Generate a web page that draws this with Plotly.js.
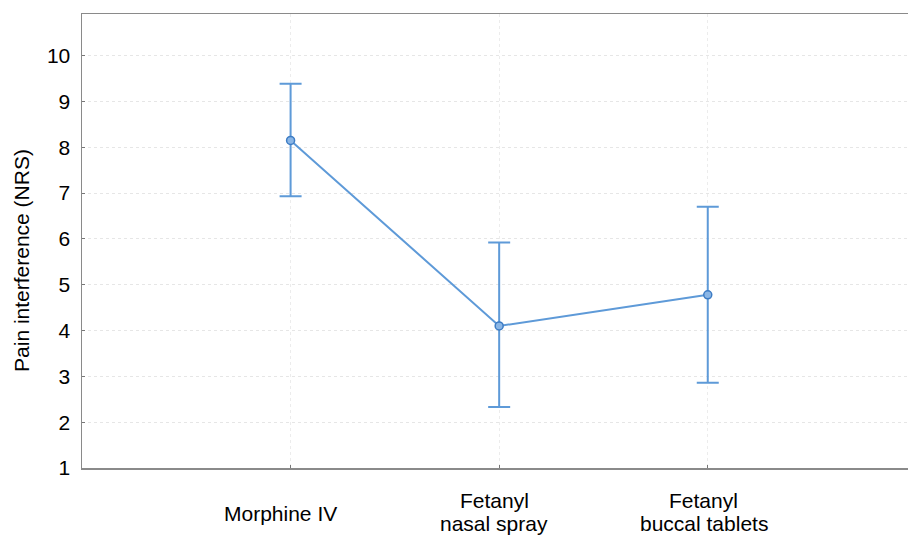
<!DOCTYPE html>
<html>
<head>
<meta charset="utf-8">
<script src="https://cdn.plot.ly/plotly-3.0.1.min.js"></script>
<style>html,body{margin:0;padding:0;background:#fff;}#chart{width:908px;height:538px;}</style>
</head>
<body>
<div id="chart"></div>
<script>
const categoryLines = [["Morphine IV"], ["Fetanyl", "nasal spray"], ["Fetanyl", "buccal tablets"]];
const positions = [1, 2, 3];
const means = [8.15, 4.10, 4.78];
const upper = [9.39, 5.92, 6.70];
const lower = [6.93, 2.33, 2.86];
const yTicks = [1, 2, 3, 4, 5, 6, 7, 8, 9, 10];
const yTitle = "Pain interference (NRS)";

const errPlus = means.map((m, i) => upper[i] - m);
const errMinus = means.map((m, i) => m - lower[i]);

const trace = {
  x: positions,
  y: means,
  type: 'scatter',
  mode: 'lines+markers',
  line: {color: '#5e9ad8', width: 2},
  marker: {size: 8, color: '#8ab6e6', line: {color: '#3d7cc4', width: 1.5}},
  error_y: {type: 'data', symmetric: false, array: errPlus, arrayminus: errMinus,
            color: '#5e9ad8', thickness: 2, width: 11},
  hoverinfo: 'skip',
  showlegend: false
};

const FONT = 'Liberation Sans, Arial, sans-serif';
const labelXShift = [-10, -5, -4];
const annotations = [];
categoryLines.forEach((lines, i) => {
  const shifts = lines.length === 1 ? [-45.5] : [-32, -55];
  lines.forEach((t, j) => {
    annotations.push({
      x: positions[i], xref: 'x', y: 0, yref: 'paper',
      text: t, showarrow: false, xanchor: 'center', yanchor: 'middle',
      xshift: labelXShift[i], yshift: shifts[j],
      font: {family: FONT, size: 21, color: '#000'}
    });
  });
});
annotations.push({
  x: 0, xref: 'paper', xshift: -60, xanchor: 'center',
  y: 0.456, yref: 'paper', yanchor: 'middle',
  text: yTitle, textangle: -90, showarrow: false,
  font: {family: FONT, size: 21, color: '#000'}
});

const layout = {
  width: 908, height: 538,
  margin: {l: 82, r: 0, t: 14, b: 70},
  paper_bgcolor: '#ffffff',
  plot_bgcolor: '#ffffff',
  font: {family: FONT, color: '#000', size: 21},
  xaxis: {
    range: [0, 3.96],
    tickmode: 'array', tickvals: positions, ticktext: positions.map(() => ''),
    showline: true, linecolor: '#8a8a8a', linewidth: 1.5, mirror: true,
    ticks: 'inside', ticklen: 3, tickcolor: '#777',
    showgrid: true, gridcolor: '#ececec', griddash: 'dot', gridwidth: 1,
    zeroline: false
  },
  yaxis: {
    range: [1, 10.91],
    tickmode: 'array', tickvals: yTicks,
    showline: true, linecolor: '#8a8a8a', linewidth: 1.5,
    ticks: 'inside', ticklen: 3, tickcolor: '#777',
    showgrid: true, gridcolor: '#e6e6e6', griddash: 'dot', gridwidth: 1,
    zeroline: false,
    ticklabelstandoff: 6,
    tickfont: {size: 21, color: '#000'}
  },
  annotations: annotations
};

Plotly.newPlot('chart', [trace], layout, {displayModeBar: false, staticPlot: true});
</script>
</body>
</html>
